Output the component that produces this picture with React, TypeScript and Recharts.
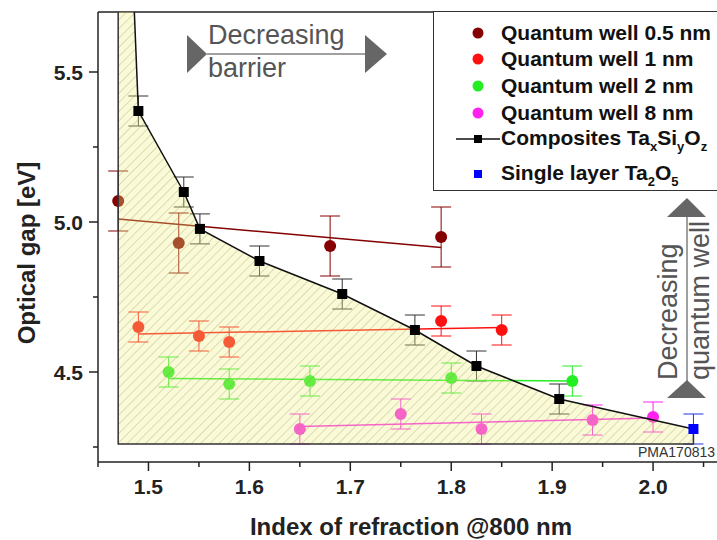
import React from "react";
import {
  ComposedChart,
  Scatter,
  XAxis,
  YAxis,
  ErrorBar,
  Legend,
  ReferenceLine,
} from "recharts";

// Quantum well series (index of refraction, optical gap, error)
const qw05X = [1.47, 1.53, 1.68, 1.79];
const qw05Y = [5.07, 4.93, 4.92, 4.95];
const qw05E = [0.1, 0.1, 0.1, 0.1];

const qw1X = [1.49, 1.55, 1.58, 1.79, 1.85];
const qw1Y = [4.65, 4.62, 4.6, 4.67, 4.64];
const qw1E = [0.05, 0.05, 0.05, 0.05, 0.05];

const qw2X = [1.52, 1.58, 1.66, 1.8, 1.92];
const qw2Y = [4.5, 4.46, 4.47, 4.48, 4.47];
const qw2E = [0.05, 0.05, 0.05, 0.05, 0.05];

const qw8X = [1.65, 1.75, 1.83, 1.94, 2.0];
const qw8Y = [4.31, 4.36, 4.31, 4.34, 4.35];
const qw8E = [0.05, 0.05, 0.05, 0.05, 0.05];

// fitted lines through each quantum well group (end points)
const fit05X = [1.47, 1.79];
const fit05Y = [5.01, 4.915];
const fit1X = [1.49, 1.85];
const fit1Y = [4.627, 4.648];
const fit2X = [1.52, 1.92];
const fit2Y = [4.478, 4.47];
const fit8X = [1.65, 2.0];
const fit8Y = [4.318, 4.347];

// composites TaxSiyOz and the Ta2O5 single layer
const compX = [1.49, 1.535, 1.551, 1.61, 1.692, 1.764, 1.825, 1.907];
const compY = [5.37, 5.1, 4.977, 4.87, 4.76, 4.64, 4.52, 4.41];
const compE = [0.05, 0.05, 0.05, 0.05, 0.05, 0.05, 0.05, 0.05];
const singleX = [2.04];
const singleY = [4.31];
const singleE = [0.05];

// hatched region: top of composites curve, left edge and base
const curveTop = { x: 1.486, y: 5.7 };
const hatchLeft = 1.47;
const hatchBase = 4.26;

const xTicks = [1.45, 1.5, 1.55, 1.6, 1.65, 1.7, 1.75, 1.8, 1.85, 1.9, 1.95, 2.0, 2.05];
const yTicks = [4.25, 4.5, 4.75, 5.0, 5.25, 5.5];

const pts = (xs: number[], ys: number[], es?: number[]) =>
  xs.map((x, i) => ({ x, y: ys[i], e: es ? es[i] : 0 }));

const qw05 = pts(qw05X, qw05Y, qw05E);
const qw1 = pts(qw1X, qw1Y, qw1E);
const qw2 = pts(qw2X, qw2Y, qw2E);
const qw8 = pts(qw8X, qw8Y, qw8E);
const comp = pts(compX, compY, compE);
const single = pts(singleX, singleY, singleE);
const curve = [curveTop, ...comp, ...single].map((p) => ({ x: p.x, y: p.y }));
const outline = [
  { x: hatchLeft, y: curveTop.y },
  { x: hatchLeft, y: hatchBase },
  { x: singleX[0], y: hatchBase },
  { x: singleX[0], y: singleY[0] },
];
const hatchPoly = [
  { x: hatchLeft, y: curveTop.y },
  ...curve,
  { x: singleX[0], y: hatchBase },
  { x: hatchLeft, y: hatchBase },
];

const FONT = '"Liberation Sans", Arial, Helvetica, sans-serif';

const C05 = "#850000";
const C1 = "#ff1010";
const C2 = "#22ee22";
const C8 = "#ff22ee";

const dot = (color: string) => (p: any) => <circle cx={p.cx} cy={p.cy} r={6} fill={color} />;
const square = (color: string) => (p: any) => (
  <rect x={p.cx - 5} y={p.cy - 5} width={10} height={10} fill={color} />
);
const none = () => <g />;

// closed, hatched polygon through the scaled points
const hatchShape = (p: any) => {
  const ps: { x: number; y: number }[] = p.points || [];
  if (!ps.length) return <g />;
  const d = "M" + ps.map((q) => `${q.x},${q.y}`).join("L") + "Z";
  return <path d={d} fill="url(#hatch)" stroke="none" />;
};

const XTick = (props: any) => {
  const { x, y, payload } = props;
  const v = payload.value;
  const major = Math.round(v * 100) % 10 === 0;
  return (
    <g>
      <line x1={x} y1={y} x2={x} y2={y + (major ? 9 : 5)} stroke="#222" strokeWidth={1.5} />
      {major && (
        <text x={x} y={y + 32} textAnchor="middle" fontFamily={FONT} fontWeight="bold" fontSize={21} fill="#222">
          {v.toFixed(1)}
        </text>
      )}
    </g>
  );
};

const YTick = (props: any) => {
  const { x, y, payload } = props;
  const v = payload.value;
  const major = Math.round(v * 100) % 50 === 0;
  return (
    <g>
      <line x1={x - (major ? 9 : 5)} y1={y} x2={x} y2={y} stroke="#222" strokeWidth={1.5} />
      {major && (
        <text x={x - 15} y={y} dy="0.36em" textAnchor="end" fontFamily={FONT} fontWeight="bold" fontSize={21} fill="#222">
          {v.toFixed(1)}
        </text>
      )}
    </g>
  );
};

const sub = (t: string) => (
  <span style={{ fontSize: 13, position: "relative", top: 6 }}>{t}</span>
);

const LegendBox = () => {
  const rows: { top: number; marker: React.ReactNode; label: React.ReactNode }[] = [
    { top: 21, marker: <circle cx={22} cy={10} r={5.5} fill={C05} />, label: "Quantum well 0.5 nm" },
    { top: 47, marker: <circle cx={22} cy={10} r={5.5} fill={C1} />, label: "Quantum well 1 nm" },
    { top: 74, marker: <circle cx={22} cy={10} r={5.5} fill={C2} />, label: "Quantum well 2 nm" },
    { top: 101, marker: <circle cx={22} cy={10} r={5.5} fill={C8} />, label: "Quantum well 8 nm" },
    {
      top: 127,
      marker: (
        <g>
          <line x1={0} y1={10} x2={44} y2={10} stroke="#111" strokeWidth={1.5} />
          <rect x={18} y={6} width={8} height={8} fill="#000" />
        </g>
      ),
      label: (
        <>
          Composites Ta{sub("x")}Si{sub("y")}O{sub("z")}
        </>
      ),
    },
    {
      top: 162,
      marker: <rect x={18} y={6} width={8} height={8} fill="#0000ff" />,
      label: (
        <>
          Single layer Ta{sub("2")}O{sub("5")}
        </>
      ),
    },
  ];
  return (
    <div
      style={{
        position: "relative",
        width: 330,
        height: 180,
        border: "1.5px solid #333",
        background: "#fff",
        fontFamily: FONT,
        fontWeight: "bold",
        fontSize: 21,
        color: "#111",
        boxSizing: "border-box",
      }}
    >
      {rows.map((r, i) => (
        <div key={i} style={{ position: "absolute", left: 22, top: r.top - 10, height: 20, display: "flex", alignItems: "center", whiteSpace: "nowrap" }}>
          <svg width={45} height={20} style={{ overflow: "visible" }}>
            {r.marker}
          </svg>
          <span style={{ lineHeight: "20px" }}>{r.label}</span>
        </div>
      ))}
    </div>
  );
};

export default function App() {
  return (
    <div style={{ position: "absolute", left: 0, top: 0, width: 717, height: 540, overflow: "hidden", background: "#fff" }}>
      <svg width={0} height={0} style={{ position: "absolute" }}>
        <defs>
          <pattern id="hatch" width="6.5" height="6.5" patternUnits="userSpaceOnUse" patternTransform="rotate(45)">
            <rect width="6.5" height="6.5" fill="#f0f080" fillOpacity={0.32} />
            <line x1="0" y1="0" x2="0" y2="6.5" stroke="#8c8c60" strokeOpacity={0.55} strokeWidth={1} />
          </pattern>
        </defs>
      </svg>
      <ComposedChart width={800} height={540} margin={{ top: 12, right: 46, bottom: 0, left: 0 }}>
        <XAxis
          type="number"
          dataKey="x"
          domain={[1.45, 2.1]}
          ticks={xTicks}
          allowDataOverflow
          height={78}
          tickSize={0}
          tickMargin={0}
          tickLine={false}
          tick={<XTick />}
          axisLine={{ stroke: "#222", strokeWidth: 1.5 }}
        />
        <YAxis
          type="number"
          dataKey="y"
          domain={[4.2, 5.7]}
          ticks={yTicks}
          allowDataOverflow
          width={98}
          tickSize={0}
          tickMargin={0}
          tickLine={false}
          tick={<YTick />}
          axisLine={{ stroke: "#222", strokeWidth: 1.5 }}
        />
        <ReferenceLine y={5.7} stroke="#222" strokeWidth={1.5} />

        <Scatter data={pts(fit05X, fit05Y)} line={{ stroke: C05, strokeWidth: 1.5 }} shape={none} isAnimationActive={false} legendType="none" />
        <Scatter data={pts(fit1X, fit1Y)} line={{ stroke: C1, strokeWidth: 1.5 }} shape={none} isAnimationActive={false} legendType="none" />
        <Scatter data={pts(fit2X, fit2Y)} line={{ stroke: C2, strokeWidth: 1.5 }} shape={none} isAnimationActive={false} legendType="none" />
        <Scatter data={pts(fit8X, fit8Y)} line={{ stroke: C8, strokeWidth: 1.5 }} shape={none} isAnimationActive={false} legendType="none" />

        <Scatter data={qw05} shape={dot(C05)} isAnimationActive={false}>
          <ErrorBar dataKey="e" direction="y" width={10} stroke={C05} strokeWidth={1} />
        </Scatter>
        <Scatter data={qw1} shape={dot(C1)} isAnimationActive={false}>
          <ErrorBar dataKey="e" direction="y" width={10} stroke={C1} strokeWidth={1} />
        </Scatter>
        <Scatter data={qw2} shape={dot(C2)} isAnimationActive={false}>
          <ErrorBar dataKey="e" direction="y" width={10} stroke={C2} strokeWidth={1} />
        </Scatter>
        <Scatter data={qw8} shape={dot(C8)} isAnimationActive={false}>
          <ErrorBar dataKey="e" direction="y" width={10} stroke={C8} strokeWidth={1} />
        </Scatter>

        <Scatter data={hatchPoly} line={hatchShape} shape={none} isAnimationActive={false} legendType="none" />
        <Scatter data={outline} line={{ stroke: "#333", strokeWidth: 1.5 }} shape={none} isAnimationActive={false} legendType="none" />
        <Scatter data={curve} line={{ stroke: "#111", strokeWidth: 1.5 }} shape={none} isAnimationActive={false} legendType="none" />

        <Scatter data={comp} shape={square("#000")} isAnimationActive={false}>
          <ErrorBar dataKey="e" direction="y" width={10} stroke="#333" strokeWidth={1} />
        </Scatter>
        <Scatter data={single} shape={square("#0000ff")} isAnimationActive={false}>
          <ErrorBar dataKey="e" direction="y" width={10} stroke="#2233dd" strokeWidth={1} />
        </Scatter>

        <Legend
          layout="vertical"
          align="center"
          verticalAlign="middle"
          content={<LegendBox />}
          wrapperStyle={{ left: 433, top: 11, width: 330, height: 180 }}
        />
      </ComposedChart>

      <svg
        width={717}
        height={540}
        style={{ position: "absolute", left: 0, top: 0, pointerEvents: "none" }}
      >
        {/* Decreasing barrier arrow */}
        <polygon points="187,35 207,54 187,73" fill="#666" />
        <line x1={207} y1={54} x2={366} y2={54} stroke="#808080" strokeWidth={1.5} />
        <polygon points="365,35 387,54 365,73" fill="#666" />
        <text x={208} y={44} fontFamily={FONT} fontSize={27} fill="#555">Decreasing</text>
        <text x={208} y={77} fontFamily={FONT} fontSize={27} fill="#555">barrier</text>

        {/* Decreasing quantum well arrow */}
        <polygon points="667,217 687,198 706,217" fill="#666" />
        <line x1={687} y1={217} x2={687} y2={381} stroke="#808080" strokeWidth={1.5} />
        <polygon points="667,398 687,380 706,398" fill="#666" />
        <text transform="translate(677,380) rotate(-90)" fontFamily={FONT} fontSize={27} fill="#555">Decreasing</text>
        <text transform="translate(709,380) rotate(-90)" fontFamily={FONT} fontSize={27} fill="#555">quantum well</text>

        <text x={638} y={457} fontFamily={FONT} fontSize={14} fill="#333">PMA170813</text>

        {/* axis titles */}
        <text x={411} y={535} textAnchor="middle" fontFamily={FONT} fontWeight="bold" fontSize={24} fill="#222">
          Index of refraction @800 nm
        </text>
        <text transform="translate(35,253) rotate(-90)" textAnchor="middle" fontFamily={FONT} fontWeight="bold" fontSize={24} fill="#222">
          Optical gap [eV]
        </text>
      </svg>
    </div>
  );
}
